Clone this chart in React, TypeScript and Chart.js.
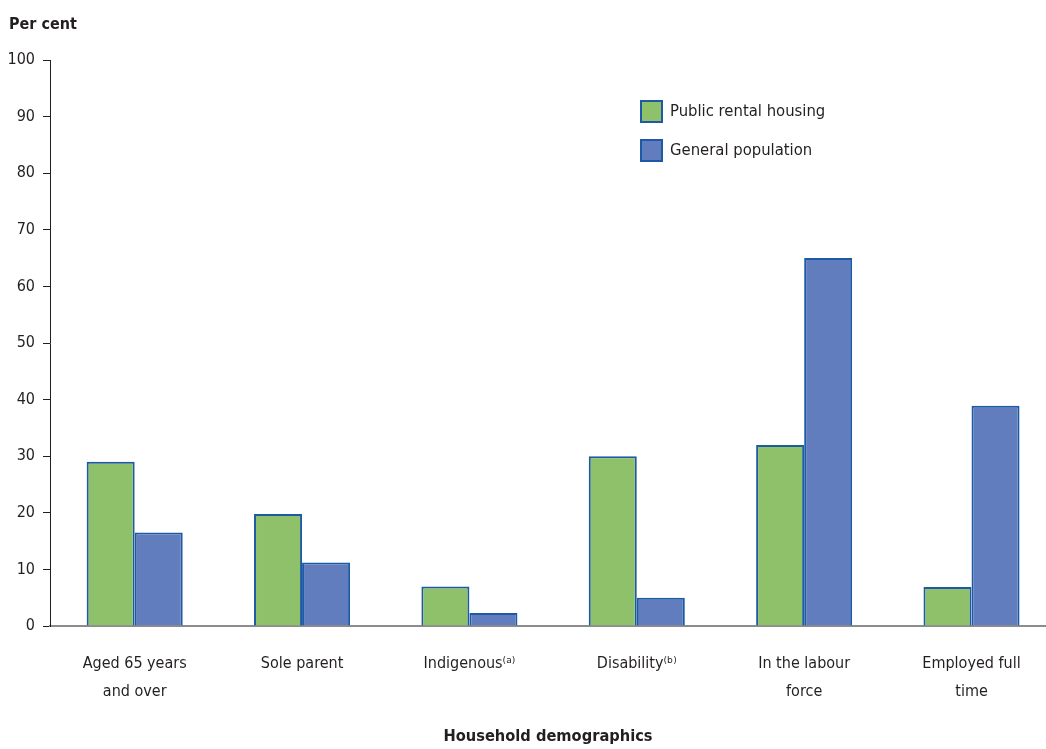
import React, { useEffect, useRef } from "react";
import { Chart, registerables } from "chart.js";

Chart.register(...registerables);

const categories: (string | string[])[] = [
  ["Aged 65 years", "and over"],
  "Sole parent",
  "Indigenous⁽ᵃ⁾",
  "Disability⁽ᵇ⁾",
  ["In the labour", "force"],
  ["Employed full", "time"],
];
const publicRental = [29.0, 19.8, 7.0, 30.0, 32.0, 6.9];
const generalPopulation = [16.5, 11.2, 2.3, 5.0, 65.0, 38.9];
const seriesNames = ["Public rental housing", "General population"];
const yTicks = [0, 10, 20, 30, 40, 50, 60, 70, 80, 90, 100];

const FONT = "'DejaVu Sans Condensed', 'DejaVu Sans', sans-serif";
const TEXT = "#231f20";
const GREEN = "#8fc06a";
const BLUE = "#627dbd";
const EDGE = "#1d5aa5";

export default function App() {
  const ref = useRef<HTMLCanvasElement | null>(null);
  useEffect(() => {
    document.body.style.margin = "0";
    const canvas = ref.current;
    if (!canvas) return;
    const legendPlugin = {
      id: "customLegend",
      afterDraw(chart: any) {
        const ctx = chart.ctx;
        ctx.save();
        const items = chart.data.datasets;
        items.forEach((ds: any, i: number) => {
          const x = 641;
          const y = 101 + i * 39;
          ctx.fillStyle = ds.backgroundColor;
          ctx.fillRect(x, y, 21, 21);
          ctx.strokeStyle = EDGE;
          ctx.lineWidth = 2;
          ctx.strokeRect(x, y, 21, 21);
          ctx.fillStyle = TEXT;
          ctx.font = `16.5px ${FONT}`;
          ctx.textBaseline = "middle";
          ctx.textAlign = "left";
          ctx.fillText(ds.label, 670, y + 11);
        });
        ctx.font = `bold 16px ${FONT}`;
        ctx.textBaseline = "middle";
        ctx.fillStyle = TEXT;
        ctx.fillText("Per cent", 9, 25);
        ctx.restore();
      },
    };
    const chart = new Chart(canvas, {
      type: "bar",
      data: {
        datasets: [
          {
            label: seriesNames[0],
            data: publicRental.map((v, i) => ({ x: i, y: v })),
            backgroundColor: GREEN,
            borderColor: EDGE,
            borderWidth: 2,
          },
          {
            label: seriesNames[1],
            data: generalPopulation.map((v, i) => ({ x: i, y: v })),
            backgroundColor: BLUE,
            borderColor: EDGE,
            borderWidth: 2,
          },
        ],
      },
      options: {
        animation: false,
        responsive: false,
        maintainAspectRatio: false,
        layout: { padding: { top: 60, left: 0, right: 0, bottom: 0 } },
        datasets: { bar: { categoryPercentage: 0.574, barPercentage: 1 } },
        plugins: {
          legend: { display: false },
          tooltip: { enabled: false },
          title: { display: false },
        },
        scales: {
          x: {
            type: "linear",
            offset: false,
            min: -0.506,
            max: 5.445,
            grid: { display: false, drawTicks: false },
            border: { display: true, color: "#8c8c8c", width: 2 },
            afterFit: (scale: any) => {
              scale.height = 123;
            },
            afterBuildTicks: (scale: any) => {
              scale.ticks = categories.map((_, i) => ({ value: i }));
            },
            ticks: {
              includeBounds: false,
              autoSkip: false,
              maxRotation: 0,
              padding: 23,
              color: TEXT,
              font: { family: FONT, size: 16, lineHeight: 1.8 },
              callback: (v: any) => categories[Math.round(Number(v))] ?? "",
            },
            title: {
              display: true,
              text: "Household demographics",
              color: TEXT,
              padding: { top: 0, bottom: 2 },
              font: { family: FONT, size: 16.3, weight: "bold" },
            },
          },
          y: {
            min: 0,
            max: 100,
            afterFit: (scale: any) => {
              scale.width = 50;
            },
            afterBuildTicks: (scale: any) => {
              scale.ticks = yTicks.map((v) => ({ value: v }));
            },
            grid: {
              display: true,
              drawOnChartArea: false,
              drawTicks: true,
              tickLength: 7,
              tickColor: TEXT,
            },
            border: { display: true, color: TEXT, width: 1 },
            ticks: {
              padding: 8,
              color: TEXT,
              font: { family: FONT, size: 16 },
            },
          },
        },
      },
      plugins: [legendPlugin],
    } as any);
    return () => chart.destroy();
  }, []);
  return (
    <div style={{ position: "absolute", left: 0, top: 0, width: 1046, height: 749 }}>
      <canvas ref={ref} width={1046} height={749} style={{ width: 1046, height: 749 }} />
    </div>
  );
}
